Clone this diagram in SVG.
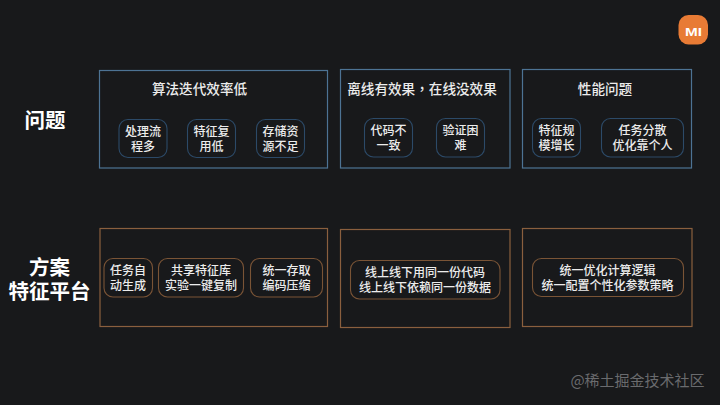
<svg xmlns="http://www.w3.org/2000/svg" width="720" height="405" viewBox="0 0 720 405">
<style>
text{font-family:"Noto Sans CJK SC","Noto Sans",sans-serif;fill:#ececec;text-anchor:middle;font-weight:500}
.t{font-size:13.6px}
.s{font-size:12px}
.h{font-size:20.500px;font-weight:700;fill:#fff}
.bb{fill:none;stroke:#4d7394;stroke-width:1.2}
.bi{fill:none;stroke:#2c4a68;stroke-width:1.1}
.ob{fill:none;stroke:#8a5f3e;stroke-width:1.2}
.oi{fill:none;stroke:#7a5436;stroke-width:1.1}
</style>
<rect width="720" height="405" fill="#18191b"/>
<g id="logo">
<rect x="678.500" y="15" width="29.500" height="29.500" rx="10" fill="#e87b35"/>
<text x="693.500" y="35.500" textLength="17" lengthAdjust="spacingAndGlyphs" style="font-family:'Liberation Sans',sans-serif;font-size:11.500px;font-weight:700;fill:#fff">MI</text>
</g>
<g id="label-problem"><text class="h" x="45" y="128">问题</text></g>
<g id="label-solution"><text class="h" x="49.500" y="275">方案<tspan x="49.500" dy="24">特征平台</tspan></text></g>
<g id="p1">
<rect class="bb" x="99.500" y="70.500" width="228" height="97.500"/>
<text class="t" x="199.500" y="94">算法迭代效率低</text>
<rect class="bi" x="119" y="119.500" width="48" height="38" rx="9"/><text class="s" x="143" y="136">处理流<tspan x="143" dy="14.500">程多</tspan></text>
<rect class="bi" x="187.500" y="119.500" width="48" height="38" rx="9"/><text class="s" x="211.500" y="136">特征复<tspan x="211.500" dy="14.500">用低</tspan></text>
<rect class="bi" x="256.500" y="119.500" width="48" height="38" rx="9"/><text class="s" x="280.500" y="136">存储资<tspan x="280.500" dy="14.500">源不足</tspan></text>
</g>
<g id="p2">
<rect class="bb" x="340.500" y="69.500" width="169.500" height="98.500"/>
<text class="t" x="422" y="94" style="font-family:'Noto Sans CJK TC','Noto Sans',sans-serif">离线有效果，在线没效果</text>
<rect class="bi" x="364.500" y="118.500" width="48" height="38.500" rx="9"/><text class="s" x="388.500" y="135">代码不<tspan x="388.500" dy="14.500">一致</tspan></text>
<rect class="bi" x="436.500" y="118.500" width="48" height="38.500" rx="9"/><text class="s" x="460.500" y="135">验证困<tspan x="460.500" dy="14.500">难</tspan></text>
</g>
<g id="p3">
<rect class="bb" x="522.500" y="69.500" width="169" height="98.500"/>
<text class="t" x="605" y="93.500">性能问题</text>
<rect class="bi" x="532.500" y="118.500" width="48" height="38.500" rx="9"/><text class="s" x="556.500" y="135">特征规<tspan x="556.500" dy="14.500">模增长</tspan></text>
<rect class="bi" x="601.500" y="118.500" width="82" height="38.500" rx="9"/><text class="s" x="642.500" y="135">任务分散<tspan x="642.500" dy="14.500">优化靠个人</tspan></text>
</g>
<g id="s1">
<rect class="ob" x="100" y="228.500" width="227.500" height="98"/>
<rect class="oi" x="104" y="258.500" width="48.500" height="38.500" rx="9"/><text class="s" x="128" y="275">任务自<tspan x="128" dy="14.500">动生成</tspan></text>
<rect class="oi" x="158.500" y="258.500" width="85" height="38.500" rx="9"/><text class="s" x="201" y="275">共享特征库<tspan x="201" dy="14.500">实验一键复制</tspan></text>
<rect class="oi" x="250.500" y="258.500" width="72" height="38.500" rx="9"/><text class="s" x="286.500" y="275">统一存取<tspan x="286.500" dy="14.500">编码压缩</tspan></text>
</g>
<g id="s2">
<rect class="ob" x="340.500" y="229.500" width="169.500" height="98"/>
<rect class="oi" x="350.500" y="260.500" width="149.500" height="38.500" rx="9"/><text class="s" x="425" y="277">线上线下用同一份代码<tspan x="425" dy="14.500">线上线下依赖同一份数据</tspan></text>
</g>
<g id="s3">
<rect class="ob" x="522.500" y="228.500" width="169.500" height="98"/>
<rect class="oi" x="532.500" y="258.500" width="151" height="38" rx="9"/><text class="s" x="607.500" y="275">统一优化计算逻辑<tspan x="607.500" dy="14.500">统一配置个性化参数策略</tspan></text>
</g>
<g id="connectors"/>
<g id="watermark"><text x="637.500" y="386" style="font-size:15px;font-weight:400;fill:#6a6b6e">@稀土掘金技术社区</text></g>
</svg>
